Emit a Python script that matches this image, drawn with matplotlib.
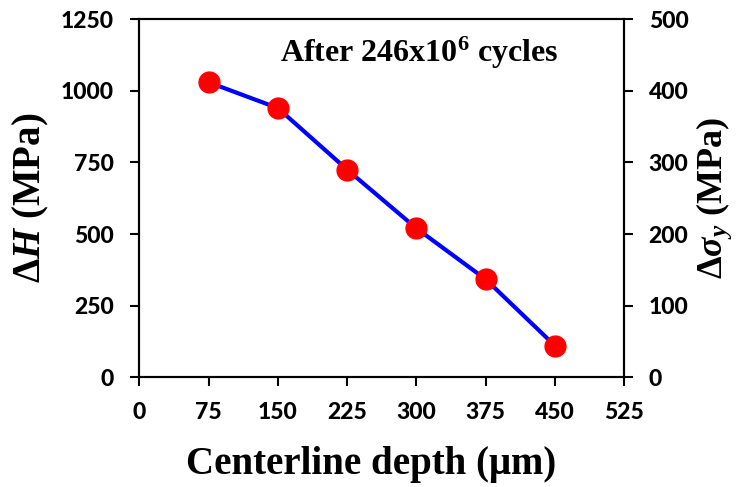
import matplotlib
matplotlib.use("Agg")
import matplotlib.pyplot as plt

# depth along the centerline (um) and hardness change (MPa)
depth = [75, 150, 225, 300, 375, 450]
dH = [1030, 940, 725, 520, 342, 110]

x_ticks = [0, 75, 150, 225, 300, 375, 450, 525]
h_ticks = [0, 250, 500, 750, 1000, 1250]
s_ticks = [0, 100, 200, 300, 400, 500]

plt.rcParams['mathtext.fontset'] = 'custom'
plt.rcParams['mathtext.rm'] = 'Liberation Serif:bold'
plt.rcParams['mathtext.it'] = 'Liberation Serif:bold:italic'
plt.rcParams['mathtext.bf'] = 'Liberation Serif:bold'

tick_font = dict(family='Lato', weight=900, size=16.5)
label_font = dict(family='Liberation Serif', weight='bold', size=28)

fig = plt.figure(figsize=(7.39, 4.87), dpi=100)
ax = fig.add_axes([0.1885, 0.2253, 0.6563, 0.7351])

ax.plot(depth, dH, color='#0000ff', lw=3, zorder=2)
ax.plot(depth, dH, 'o', color='#ff0000', ms=15, zorder=3)

ax.set_xlim(0, 525)
ax.set_ylim(0, 1250)
ax.set_xticks(x_ticks)
ax.set_yticks(h_ticks)

# right axis: yield strength change, same span scaled
ax2 = ax.twinx()
ax2.set_ylim(0, 500)
ax2.set_yticks(s_ticks)

for a in (ax, ax2):
    for sp in a.spines.values():
        sp.set_linewidth(1.5)
    a.tick_params(direction='out', length=6.5, width=1.5)
    for lab in a.get_xticklabels() + a.get_yticklabels():
        lab.set_fontproperties(matplotlib.font_manager.FontProperties(**tick_font))

ax.tick_params(axis='y', pad=12)
ax.tick_params(axis='x', pad=11)
ax2.tick_params(axis='y', pad=11)

ax.set_xlabel('Centerline depth (μm)', va='center', **label_font)
ax.xaxis.set_label_coords(0.479, -0.245)
ax.set_ylabel(r'$\Delta\mathit{H}$ (MPa)', va='center', **label_font)
ax.yaxis.set_label_coords(-0.223, 0.5)
ax2.set_ylabel(r'$\Delta\mathit{\sigma}_\mathit{y}$ (MPa)', va='center', rotation=90,
               family='Liberation Serif', weight='bold', size=26)
ax2.yaxis.set_label_coords(1.186, 0.5)

ax.text(0.29, 0.905, r'After 246x10$^6$ cycles', transform=ax.transAxes,
        family='Liberation Serif', weight='bold', size=23, va='center')

fig.savefig('out.png', dpi=100)
